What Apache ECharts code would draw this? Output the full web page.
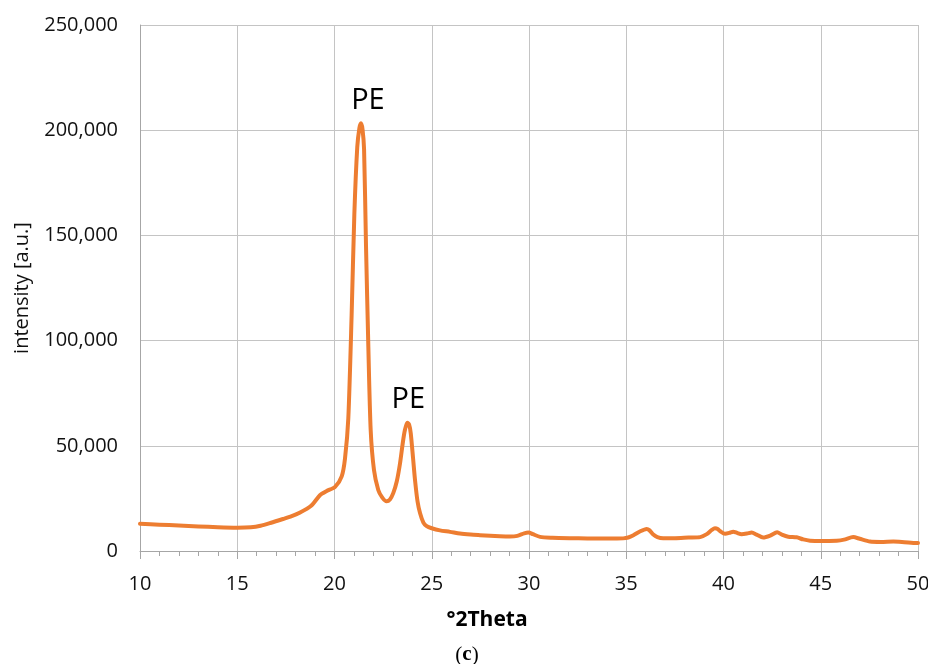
<!DOCTYPE html>
<html>
<head>
<meta charset="utf-8">
<script src="https://cdn.jsdelivr.net/npm/echarts@6/dist/echarts.min.js"></script>
<style>
  html, body { margin: 0; padding: 0; background: #ffffff; }
  #chart { width: 928px; height: 664px; }
</style>
</head>
<body>
<div id="chart"></div>
<script>
// ---- data ----
var theta = [10, 11, 12, 13, 14, 15, 15.7, 16.2, 16.7, 17.35, 17.8, 18.23, 18.8, 19.25, 19.6,
  20.03, 20.37, 20.54, 20.71, 20.88, 21.02, 21.17, 21.28, 21.36, 21.44, 21.52, 21.62, 21.74, 21.86,
  22.03, 22.25, 22.45, 22.68, 22.85, 23.02, 23.2, 23.37, 23.52, 23.62, 23.74, 23.84, 23.92, 24.04,
  24.14, 24.27, 24.4, 24.57, 24.74, 25.0, 25.42, 25.94, 26.45, 27.0, 27.48, 28.0, 28.5, 29.02,
  29.4, 29.75, 29.97, 30.2, 30.57, 31.2, 32.1, 33.0, 34.0, 34.84, 35.1, 35.37, 35.7, 36.05, 36.2,
  36.39, 36.6, 36.9, 37.5, 38.2, 38.8, 39.14, 39.4, 39.56, 39.7, 39.82, 40.08, 40.3, 40.5, 40.7,
  40.93, 41.2, 41.45, 41.7, 42.04, 42.4, 42.76, 43.0, 43.33, 43.76, 44.1, 44.45, 45.0, 45.82,
  46.2, 46.67, 47.0, 47.53, 48.1, 48.73, 49.3, 49.93, 50];
var intensity = [12900, 12500, 12100, 11700, 11300, 11100, 11300, 12000, 13300, 15200, 16600, 18300, 21500, 26500, 28500,
  30500, 35500, 44000, 63000, 112000, 160000, 192000, 201000, 203300, 200500, 191000, 145000, 97000, 57500,
  38500, 29000, 25500, 23600, 24500, 27500, 33000, 41700, 52000, 57500, 61000, 60000, 56000, 44000,
  33700, 23500, 17900, 13500, 11800, 10800, 9800, 9100, 8300, 7800, 7500, 7200, 7000, 6900,
  7200, 8400, 8800, 8000, 6700, 6300, 6100, 6000, 5900, 6000, 6400, 7500, 9300, 10500, 9800,
  7800, 6600, 6100, 6100, 6400, 6600, 8000, 10000, 10800, 10500, 9500, 8200, 8600, 9200, 8600,
  8000, 8300, 8800, 7800, 6400, 7300, 8900, 7800, 6800, 6500, 5500, 4900, 4700, 4900,
  5400, 6600, 5800, 4500, 4300, 4500, 4200, 3800, 3800];
var peakTheta = [21.36, 23.74];
var peakIntensity = [203300, 61000];
var peakLabels = ['PE', 'PE'];
var xTicks = [10, 15, 20, 25, 30, 35, 40, 45, 50];
var yTicks = [0, 50000, 100000, 150000, 200000, 250000];

var points = theta.map(function (t, i) { return [t, intensity[i]]; });
var labelShift = [[7, 0], [1, 0]];
var marks = peakTheta.map(function (t, i) {
  return { coord: [t, peakIntensity[i]], value: peakLabels[i], label: { offset: labelShift[i] } };
});

var font = 'Open Sans';
var chart = echarts.init(document.getElementById('chart'), null, { renderer: 'canvas' });
chart.setOption({
  animation: false,
  backgroundColor: '#ffffff',
  grid: { left: 140, right: 10, top: 25, bottom: 113, containLabel: false, outerBoundsMode: 'none' },
  title: {
    text: '({b|c})',
    left: 467, top: 645,
    padding: 0,
    textAlign: 'center',
    textStyle: {
      fontFamily: 'Liberation Serif', fontSize: 21, lineHeight: 20, color: '#000', fontWeight: 'normal',
      rich: { b: { fontFamily: 'Liberation Serif', fontSize: 21, lineHeight: 20, fontWeight: 'bold', color: '#000' } }
    }
  },
  xAxis: {
    type: 'value',
    min: xTicks[0], max: xTicks[xTicks.length - 1], interval: 5,
    name: '°2Theta',
    nameLocation: 'middle',
    nameGap: 59,
    nameTextStyle: { fontFamily: font, fontSize: 21, fontWeight: 'bold', color: '#000', padding: [0, 84, 0, 0] },
    axisLine: { show: true, lineStyle: { color: '#a6a6a6', width: 1 } },
    axisTick: { show: true, length: 8, lineStyle: { color: '#a6a6a6' } },
    minorTick: { show: true, splitNumber: 5, length: 5, lineStyle: { color: '#a6a6a6' } },
    axisLabel: { fontFamily: font, fontSize: 20, color: '#111', margin: 23 },
    splitLine: { show: true, lineStyle: { color: '#c4c4c4', width: 1 } }
  },
  yAxis: {
    type: 'value',
    min: yTicks[0], max: yTicks[yTicks.length - 1], interval: 50000,
    name: 'intensity [a.u.]',
    nameLocation: 'middle',
    nameGap: 108,
    nameTextStyle: { fontFamily: font, fontSize: 20, color: '#111' },
    axisLine: { show: true, lineStyle: { color: '#a6a6a6', width: 1 } },
    axisTick: { show: false },
    axisLabel: {
      fontFamily: font, fontSize: 20, color: '#111', margin: 22,
      formatter: function (v) { return v.toLocaleString('en-US'); }
    },
    splitLine: { show: true, lineStyle: { color: '#c4c4c4', width: 1 } }
  },
  series: [{
    type: 'line',
    data: points,
    showSymbol: false,
    symbol: 'none',
    smooth: 0.25,
    lineStyle: { color: '#ED7D31', width: 4, join: 'round', cap: 'round' },
    markPoint: {
      symbol: 'circle', symbolSize: 0,
      label: {
        show: true, position: 'top', distance: 8,
        formatter: function (p) { return p.data.value; },
        fontFamily: font, fontSize: 29, color: '#000'
      },
      data: marks
    }
  }]
});
</script>
</body>
</html>
